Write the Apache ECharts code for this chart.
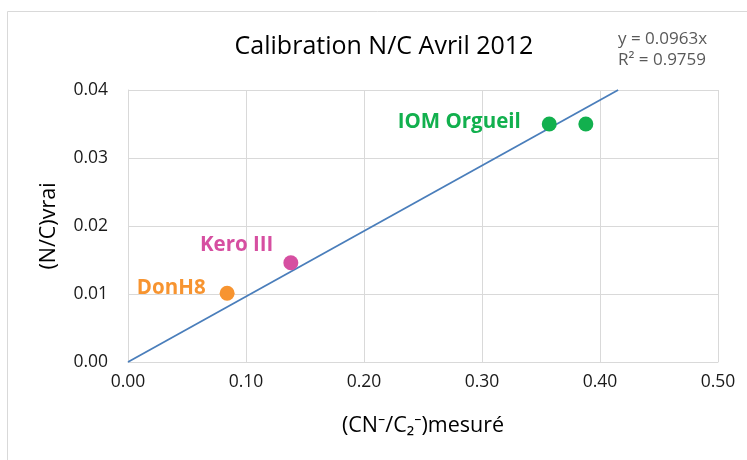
<!DOCTYPE html>
<html>
<head>
<meta charset="utf-8">
<script src="https://cdn.jsdelivr.net/npm/echarts@6/dist/echarts.min.js"></script>
<style>
  html, body { margin: 0; padding: 0; background: #fff; }
  #chart { width: 747px; height: 460px; }
</style>
</head>
<body>
<div id="chart"></div>
<script>
// Calibration data: measured CN-/C2- ratio vs true N/C
const sampleNames = ['DonH8', 'Kero III', 'IOM Orgueil'];
const donH8 = [[0.084, 0.0101]];
const kero = [[0.138, 0.0146]];
const iomOrgueil = [[0.357, 0.035], [0.388, 0.035]];
const trendSlope = 0.0963;
const trendR2 = 0.9759;
const xTicks = [0, 0.1, 0.2, 0.3, 0.4, 0.5];
const yTicks = [0, 0.01, 0.02, 0.03, 0.04];

const FONT = '"Open Sans", "Noto Sans", sans-serif';
const yMax = yTicks[yTicks.length - 1];
// linear fit through the origin, clipped at the top of the y range
const trend = [[0, 0], [yMax / trendSlope, yMax]];

const chart = echarts.init(document.getElementById('chart'));

function pointSeries(name, data, color, label) {
  return {
    name: name,
    type: 'scatter',
    data: data,
    symbolSize: 15,
    itemStyle: { color: color, opacity: 1 },
    label: Object.assign({
      fontFamily: FONT,
      fontWeight: 'bold',
      fontSize: 20.5,
      color: color
    }, label),
    z: 3
  };
}

chart.setOption({
  animation: false,
  backgroundColor: '#fff',
  textStyle: { fontFamily: FONT },
  title: {
    text: 'Calibration N/C Avril 2012',
    left: 379,
    top: 29,
    textAlign: 'center',
    textStyle: { fontFamily: FONT, fontSize: 25, fontWeight: 'normal', color: '#000' }
  },
  graphic: [
    {
      type: 'rect', silent: true, z: -1,
      shape: { x: 7.5, y: 11.5, width: 760, height: 470 },
      style: { fill: 'none', stroke: '#D9D9D9', lineWidth: 1 }
    },
    {
      type: 'text', left: 618, top: 31,
      style: { text: 'y = ' + trendSlope + 'x', fontFamily: FONT, fontSize: 17, fill: '#595959' }
    },
    {
      type: 'text', left: 618, top: 52,
      style: { text: 'R² = ' + trendR2, fontFamily: FONT, fontSize: 17, fill: '#595959' }
    }
  ],
  grid: { left: 128, right: 29, top: 90, bottom: 98 },
  xAxis: {
    type: 'value',
    min: xTicks[0],
    max: xTicks[xTicks.length - 1],
    interval: 0.1,
    name: '(CN⁻/C₂⁻)mesuré',
    nameLocation: 'middle',
    nameGap: 53,
    nameTextStyle: { fontFamily: FONT, fontSize: 21.5, color: '#000' },
    axisLine: { show: true, lineStyle: { color: '#D9D9D9', width: 1 } },
    axisTick: { show: false },
    axisLabel: {
      fontFamily: FONT, fontSize: 17.5, color: '#1a1a1a', margin: 11,
      formatter: v => v.toFixed(2)
    },
    splitLine: { show: true, lineStyle: { color: '#D9D9D9', width: 1 } }
  },
  yAxis: {
    type: 'value',
    min: yTicks[0],
    max: yMax,
    interval: 0.01,
    name: '(N/C)vrai',
    nameLocation: 'middle',
    nameGap: 68,
    nameRotate: 90,
    nameTextStyle: { fontFamily: FONT, fontSize: 21.5, color: '#000' },
    axisLine: { show: true, lineStyle: { color: '#D9D9D9', width: 1 } },
    axisTick: { show: false },
    axisLabel: {
      fontFamily: FONT, fontSize: 17.5, color: '#1a1a1a', margin: 20,
      formatter: v => v.toFixed(2)
    },
    splitLine: { show: true, lineStyle: { color: '#D9D9D9', width: 1 } }
  },
  series: [
    {
      name: 'trend',
      type: 'line',
      data: trend,
      showSymbol: false,
      symbol: 'none',
      lineStyle: { color: '#4A7EBB', width: 1.8 },
      z: 2
    },
    pointSeries(sampleNames[0], donH8, '#F79430', {
      show: true, position: 'left', distance: 14, offset: [0, -5],
      formatter: p => p.dataIndex === 0 ? sampleNames[0] : ''
    }),
    pointSeries(sampleNames[1], kero, '#D64FA1', {
      show: true, position: 'left', distance: 10, offset: [0, -18],
      formatter: p => p.dataIndex === 0 ? sampleNames[1] : ''
    }),
    pointSeries(sampleNames[2], iomOrgueil, '#12B04E', {
      show: true, position: 'left', distance: 21, offset: [0, -2],
      formatter: p => p.dataIndex === 0 ? sampleNames[2] : ''
    })
  ]
});
</script>
</body>
</html>
